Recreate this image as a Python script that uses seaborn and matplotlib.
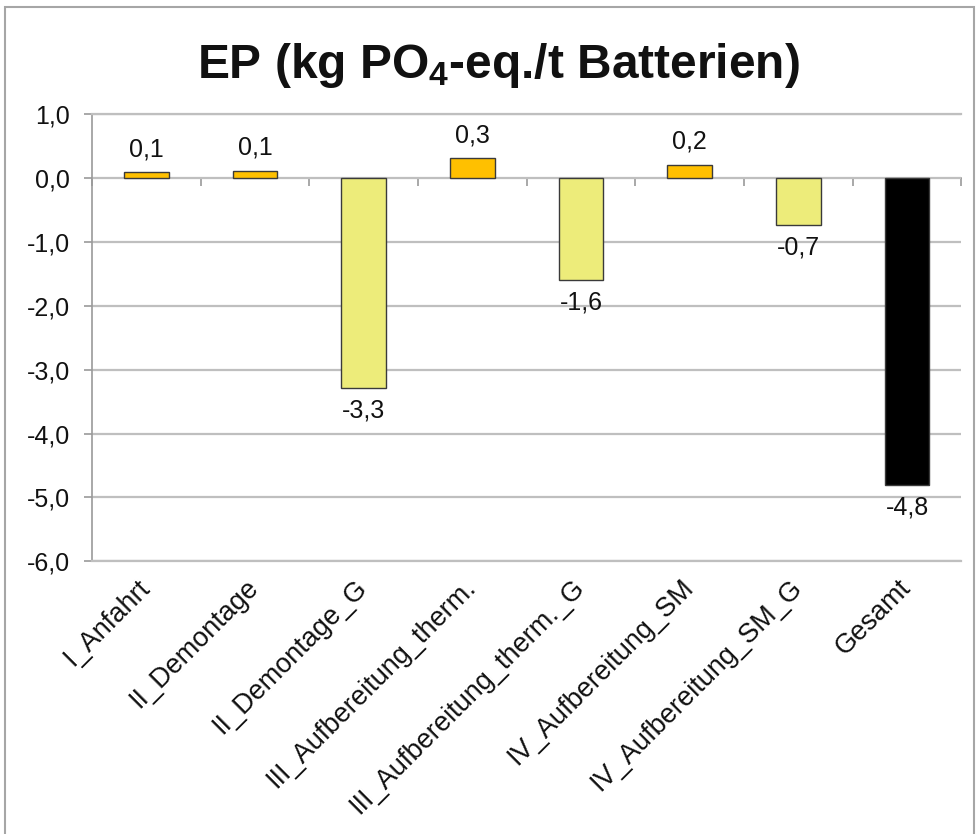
import matplotlib
matplotlib.use("Agg")
import matplotlib.pyplot as plt
import matplotlib.ticker as mticker
from matplotlib.patches import Rectangle
import seaborn as sns
import pandas as pd

categories = ["I_Anfahrt", "II_Demontage", "II_Demontage_G", "III_Aufbereitung_therm.",
              "III_Aufbereitung_therm._G", "IV_Aufbereitung_SM", "IV_Aufbereitung_SM_G", "Gesamt"]
values = [0.09, 0.11, -3.28, 0.31, -1.59, 0.21, -0.73, -4.8]
bar_colors = ["#FFC000", "#FFC000", "#EDEC7A", "#FFC000", "#EDEC7A", "#FFC000", "#EDEC7A", "#000000"]

df = pd.DataFrame({"Prozess": categories, "EP": values})

sns.set_theme(style="white")
plt.rcParams["font.family"] = ["Liberation Sans", "DejaVu Sans"]
plt.rcParams["mathtext.fontset"] = "custom"
plt.rcParams["mathtext.rm"] = "Liberation Sans"
plt.rcParams["mathtext.bf"] = "Liberation Sans:bold"

grid_col = "#bfbfbf"
axis_col = "#9a9a9a"

fig = plt.figure(figsize=(9.79, 8.34), dpi=100)
ax = fig.add_axes([0.094, 0.327, 0.888, 0.536])

sns.barplot(data=df, x="Prozess", y="EP", hue="Prozess", palette=bar_colors, legend=False,
            width=0.41, edgecolor="#3a3a3a", linewidth=1.0, saturation=1, ax=ax, zorder=3)

for c in ax.containers:
    ax.bar_label(c, fmt=lambda v: f"{v:.1f}".replace(".", ","), padding=8, fontsize=18, color="#111111")

ymin, ymax = -6, 1
ax.set_ylim(ymin, ymax)
ax.set_xlim(-0.5, len(categories) - 0.5)
ax.set_yticks(range(ymin, ymax + 1))
ax.yaxis.set_major_formatter(mticker.FuncFormatter(lambda v, p: f"{v:.1f}".replace(".", ",")))
ax.yaxis.grid(True, color=grid_col, linewidth=1.6)
ax.set_axisbelow(True)
ax.set_xlabel("")
ax.set_ylabel("")

ax.spines["right"].set_visible(False)
for s in ["top", "bottom"]:
    ax.spines[s].set_color(grid_col)
    ax.spines[s].set_linewidth(1.6)
ax.spines["left"].set_color(axis_col)
ax.spines["left"].set_linewidth(1.2)

ax.tick_params(axis="y", left=True, direction="out", length=6, width=1.2, color=axis_col,
               labelsize=18, pad=10, labelcolor="#111111")
ax.tick_params(axis="x", bottom=False, length=0, labelsize=19.5, pad=16, labelcolor="#111111")
plt.setp(ax.get_xticklabels(), rotation=45, ha="right", va="center", rotation_mode="anchor")

# category axis crossing at zero with boundary ticks
sec = ax.secondary_xaxis((0 - ymin) / (ymax - ymin))
sec.set_xticks([i - 0.5 for i in range(len(categories) + 1)])
sec.set_xticklabels([])
sec.xaxis.set_ticks_position("bottom")
sec.tick_params(axis="x", direction="out", length=6, width=1.2, color=axis_col)
for s in sec.spines.values():
    s.set_color(axis_col)
    s.set_linewidth(1.2)

fig.text(0.509, 0.906, r"EP (kg PO$_\mathbf{4}$-eq./t Batterien)", fontsize=34.5,
         fontweight="bold", ha="center", va="baseline", color="#111111")

fig.patches.append(Rectangle((0.005, -0.01), 0.99, 1.002, transform=fig.transFigure,
                             fill=False, edgecolor="#a6a6a6", linewidth=1.5))

fig.savefig("out.png", dpi=100)
